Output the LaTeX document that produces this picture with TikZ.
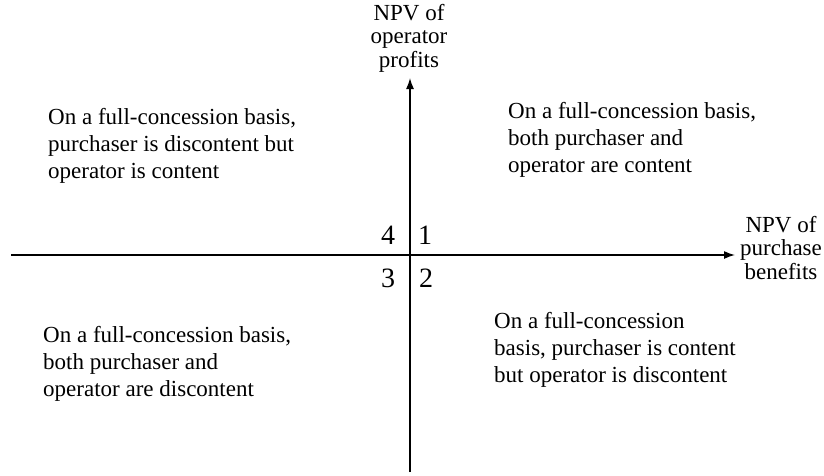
\documentclass[tikz,border=0pt]{standalone}
\usepackage{fontspec}
\setmainfont{Liberation Serif}
\usetikzlibrary{arrows.meta}
\tikzset{
  quadtext/.style={align=left, anchor=north west, inner sep=0pt, font=\fontsize{23}{27}\selectfont},
  axislabel/.style={align=center, inner sep=0pt, font=\fontsize{23}{23.5}\selectfont},
  quadnum/.style={inner sep=0pt, font=\fontsize{28}{30}\selectfont},
  axisline/.style={line width=1.4pt, -{Latex[length=11pt,width=8pt]}}
}
\begin{document}
\begin{tikzpicture}[x=1pt,y=-1pt]
\useasboundingbox (0,0) rectangle (824,475); %picture frame
% axes
\coordinate (hstart) at (11,255);
\coordinate (hend) at (735,255);
\coordinate (vstart) at (410,472);
\coordinate (vend) at (410,78);
\draw[axisline] (hstart) -- (hend); %purchase benefits axis
\draw[axisline] (vstart) -- (vend); %operator profits axis
% axis labels
\node[axislabel] (ylabel) at (409,38) {NPV of\\operator\\profits};
\node[axislabel] (xlabel) at (781,248) {NPV of\\purchase\\benefits};
% quadrant numbers
\node[quadnum] (qone) at (425,235) {1};
\node[quadnum] (qtwo) at (426,278) {2};
\node[quadnum] (qthree) at (388,278) {3};
\node[quadnum] (qfour) at (388,235) {4};
% quadrant texts
\node[quadtext] (textone) at (508,102) {On a full-concession basis,\\both purchaser and\\operator are content};
\node[quadtext] (texttwo) at (494,312) {On a full-concession\\basis, purchaser is content\\but operator is discontent};
\node[quadtext] (textthree) at (43,326) {On a full-concession basis,\\both purchaser and\\operator are discontent};
\node[quadtext] (textfour) at (48,108) {On a full-concession basis,\\purchaser is discontent but\\operator is content};
\end{tikzpicture}
\end{document}
